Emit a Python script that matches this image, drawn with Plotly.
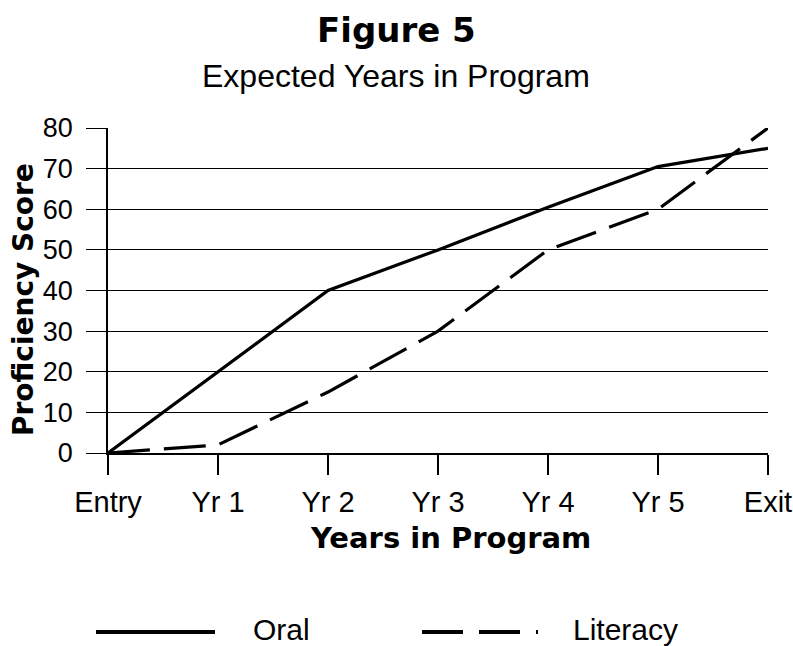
import plotly.graph_objects as go

categories = ["Entry", "Yr 1", "Yr 2", "Yr 3", "Yr 4", "Yr 5", "Exit"]
oral = [0, 20, 40, 50, 60.5, 70.5, 75]
literacy = [0, 2, 15, 30, 50, 60, 80]
series_names = ["Oral", "Literacy"]
y_ticks = [0, 10, 20, 30, 40, 50, 60, 70, 80]

W, H = 793, 646
L, R, T, B = 108, 768, 128, 453  # plot area in page pixels

def px(x):
    return (x - L) / (R - L)

def py(y):
    return (B - y) / (B - T)

xs = list(range(len(categories)))

fig = go.Figure()
fig.add_trace(go.Scatter(x=xs, y=oral, mode="lines", name=series_names[0],
                         line=dict(color="black", width=3.2), showlegend=False,
                         cliponaxis=False))
fig.add_trace(go.Scatter(x=xs, y=literacy, mode="lines", name=series_names[1],
                         line=dict(color="black", width=3.2, dash="42px,14px"),
                         showlegend=False, cliponaxis=False))

fig.update_layout(
    width=W, height=H, autosize=False,
    margin=dict(l=L, r=W - R, t=T, b=H - B, pad=0, autoexpand=False),
    paper_bgcolor="white", plot_bgcolor="white",
    font=dict(family="Liberation Sans, Arial, sans-serif", color="black"),
    xaxis=dict(
        range=[0, len(categories) - 1], tickmode="array", tickvals=xs, ticktext=categories,
        showgrid=False, zeroline=False, showline=True, linecolor="black", linewidth=1.5,
        ticks="outside", ticklen=20, tickwidth=1.5, tickcolor="black",
        tickfont=dict(size=29, family="Liberation Sans, Arial, sans-serif"),
        ticklabelstandoff=2, ticklabeloverflow="allow", automargin=False,
    ),
    yaxis=dict(
        range=[0, 80], tickmode="array", tickvals=y_ticks,
        showgrid=True, gridcolor="black", gridwidth=1.2, zeroline=False,
        showline=True, linecolor="black", linewidth=1.5,
        ticks="outside", ticklen=20, tickwidth=1.2, tickcolor="black",
        tickfont=dict(size=27, family="Liberation Sans, Arial, sans-serif"),
        ticklabelstandoff=8, automargin=False,
    ),
)

ann = []
ann.append(dict(text="<b>Figure 5</b>", x=px(396), y=py(30), xref="paper", yref="paper",
                showarrow=False, xanchor="center", yanchor="middle",
                font=dict(size=34, family="DejaVu Sans, sans-serif")))
ann.append(dict(text="Expected Years in Program", x=px(396), y=py(76), xref="paper", yref="paper",
                showarrow=False, xanchor="center", yanchor="middle",
                font=dict(size=32)))
ann.append(dict(text="<b>Years in Program</b>", x=px(450), y=py(538), xref="paper", yref="paper",
                showarrow=False, xanchor="center", yanchor="middle",
                font=dict(size=29, family="DejaVu Sans, sans-serif")))
ann.append(dict(text="<b>Proficiency Score</b>", x=px(23), y=py(300), xref="paper", yref="paper",
                showarrow=False, xanchor="center", yanchor="middle", textangle=-90,
                font=dict(size=28, family="DejaVu Sans, sans-serif")))
# legend
ann.append(dict(text=series_names[0], x=px(251), y=py(629), xref="paper", yref="paper",
                showarrow=False, xanchor="left", yanchor="middle", font=dict(size=30)))
ann.append(dict(text=series_names[1], x=px(571), y=py(629), xref="paper", yref="paper",
                showarrow=False, xanchor="left", yanchor="middle", font=dict(size=30)))
fig.update_layout(annotations=ann)

fig.add_shape(type="line", xref="paper", yref="paper", x0=px(96), x1=px(215), y0=py(632), y1=py(632),
              line=dict(color="black", width=4))
fig.add_shape(type="line", xref="paper", yref="paper", x0=px(422), x1=px(538), y0=py(632), y1=py(632),
              line=dict(color="black", width=4, dash="41px,16px"))

post = ("document.body.style.margin='0px';document.body.style.overflow='hidden';"
        "var gd=document.getElementById('{plot_id}');"
        "Plotly.relayout(gd,{width:%d,height:%d});" % (W, H))
fig.write_html("out.html", config={"displayModeBar": False, "responsive": False}, post_script=post)
